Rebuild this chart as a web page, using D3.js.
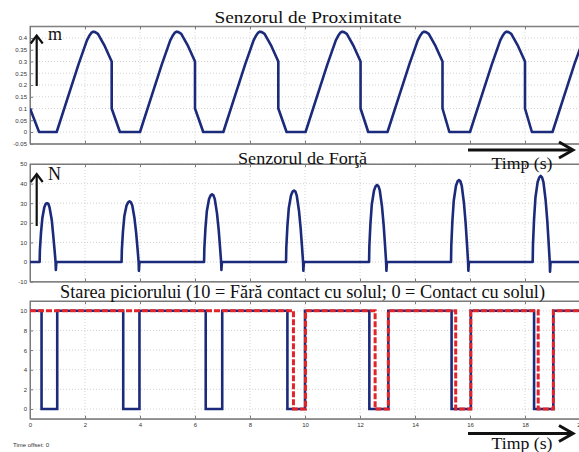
<!DOCTYPE html>
<html><head><meta charset="utf-8">
<script src="https://cdn.jsdelivr.net/npm/d3@7"></script>
<style>
html,body{margin:0;padding:0;background:#fff;}
svg{display:block;}
</style></head>
<body>
<svg id="c" width="579" height="452"></svg>
<script>
// ---------- DATA ----------
const xTicks = [0, 2, 4, 6, 8, 10, 12, 14, 16, 18, 20];
const proxTicks = [-0.05, 0, 0.05, 0.1, 0.15, 0.2, 0.25, 0.3, 0.35, 0.4];
const forceTicks = [-10, 0, 10, 20, 30, 40, 50];
const stateTicks = [0, 2, 4, 6, 8, 10];

const titles = ["Senzorul de Proximitate", "Senzorul de Forţă",
  "Starea piciorului (10 = Fără contact cu solul; 0 = Contact cu solul)"];

const proxT = [0, 0.33,
  0.97, 1.37, 1.77, 1.92, 2.07, 2.17, 2.24, 2.30, 2.37, 2.47, 2.72, 2.97, 2.97, 3.27,
  4.00, 4.40, 4.80, 4.95, 5.10, 5.20, 5.27, 5.33, 5.40, 5.50, 5.75, 6.00, 6.00, 6.30,
  7.03, 7.43, 7.83, 7.98, 8.13, 8.23, 8.30, 8.36, 8.43, 8.53, 8.78, 9.03, 9.03, 9.33,
  10.02, 10.42, 10.82, 10.97, 11.12, 11.22, 11.29, 11.35, 11.42, 11.52, 11.77, 12.02, 12.02, 12.30,
  13.00, 13.40, 13.80, 13.95, 14.10, 14.20, 14.27, 14.33, 14.40, 14.50, 14.75, 15.00, 15.00, 15.25,
  16.00, 16.40, 16.80, 16.95, 17.10, 17.20, 17.27, 17.33, 17.40, 17.50, 17.75, 18.00, 18.00, 18.25,
  19.00, 19.40, 19.80, 20.00];
const proxV = [0.10, 0,
  0, 0.145, 0.29, 0.34, 0.39, 0.412, 0.423, 0.427, 0.425, 0.418, 0.365, 0.30, 0.10, 0,
  0, 0.145, 0.29, 0.34, 0.39, 0.412, 0.423, 0.427, 0.425, 0.418, 0.365, 0.30, 0.10, 0,
  0, 0.145, 0.29, 0.34, 0.39, 0.412, 0.423, 0.427, 0.425, 0.418, 0.365, 0.30, 0.10, 0,
  0, 0.145, 0.29, 0.34, 0.39, 0.412, 0.423, 0.427, 0.425, 0.418, 0.365, 0.30, 0.10, 0,
  0, 0.145, 0.29, 0.34, 0.39, 0.412, 0.423, 0.427, 0.425, 0.418, 0.365, 0.30, 0.10, 0,
  0, 0.145, 0.29, 0.34, 0.39, 0.412, 0.423, 0.427, 0.425, 0.418, 0.365, 0.30, 0.10, 0,
  0, 0.145, 0.29, 0.355];

const forceT = [0,
  0.35, 0.36, 0.40, 0.45, 0.52, 0.57, 0.62, 0.67, 0.71, 0.79, 0.84, 0.89, 0.93, 0.94, 0.96,
  3.33, 3.34, 3.38, 3.43, 3.51, 3.57, 3.62, 3.67, 3.72, 3.80, 3.86, 3.91, 3.95, 3.96, 3.98,
  6.33, 6.34, 6.38, 6.43, 6.51, 6.57, 6.62, 6.67, 6.72, 6.80, 6.86, 6.91, 6.95, 6.96, 6.98,
  9.31, 9.32, 9.36, 9.41, 9.49, 9.55, 9.60, 9.65, 9.70, 9.78, 9.84, 9.89, 9.93, 9.94, 9.96,
  12.33, 12.34, 12.38, 12.43, 12.51, 12.57, 12.62, 12.67, 12.72, 12.80, 12.86, 12.91, 12.95, 12.96, 12.98,
  15.31, 15.32, 15.36, 15.41, 15.49, 15.55, 15.60, 15.65, 15.70, 15.78, 15.84, 15.89, 15.93, 15.94, 15.96,
  18.28, 18.29, 18.33, 18.38, 18.46, 18.52, 18.57, 18.62, 18.67, 18.75, 18.81, 18.86, 18.90, 18.91, 18.93,
  20];
const forceV = [0,
  0, 6.0, 15.0, 22.5, 27.9, 29.6, 30.0, 29.6, 27.9, 21.6, 14.4, 6.6, 0, -4.0, 0,
  0, 6.2, 15.5, 23.3, 28.8, 30.5, 31.0, 30.5, 28.8, 22.3, 14.9, 6.8, 0, -4.5, 0,
  0, 6.9, 17.3, 25.9, 32.1, 34.0, 34.5, 34.0, 32.1, 24.8, 16.6, 7.6, 0, -4.0, 0,
  0, 7.3, 18.3, 27.4, 33.9, 36.0, 36.5, 36.0, 33.9, 26.3, 17.5, 8.0, 0, -4.5, 0,
  0, 7.9, 19.7, 29.5, 36.5, 38.7, 39.3, 38.7, 36.5, 28.3, 18.9, 8.6, 0, -4.5, 0,
  0, 8.4, 20.9, 31.4, 38.9, 41.2, 41.8, 41.2, 38.9, 30.1, 20.1, 9.2, 0, -4.5, 0,
  0, 8.8, 22.0, 32.9, 40.8, 43.2, 43.9, 43.2, 40.8, 31.6, 21.1, 9.7, 0, -5.0, 0,
  0];

// step signals (value holds from each time until the next)
const blueT = [0, 0.42, 0.99, 3.39, 3.98, 6.39, 6.99, 9.36, 10.00, 12.34, 13.03, 15.33, 16.03, 18.33, 19.03, 20];
const blueV = [10, 0, 10, 0, 10, 0, 10, 0, 10, 0, 10, 0, 10, 0, 10, 10];
const redT = [0, 9.58, 10.02, 12.55, 13.03, 15.48, 16.03, 18.48, 19.03, 20];
const redV = [10, 0, 10, 0, 10, 0, 10, 0, 10, 10];

// ---------- DRAW ----------
const svg = d3.select("#c");
const X0 = 30, X1 = 580;
const x = d3.scaleLinear().domain([0, 20]).range([X0, X1]);

const panels = [
  {dom: [-0.05, 0.45], r: [143.75, 26.25], ticks: proxTicks, labels: false},
  {dom: [-10, 50], r: [281.6, 164], ticks: forceTicks, labels: false},
  {dom: [-1, 11], r: [418.8, 301], ticks: stateTicks, labels: true}
];
const navy = "#1b2a7a";
const frame = "#7a7a7a";

panels.forEach((p, i) => {
  const y = d3.scaleLinear().domain(p.dom).range(p.r);
  p.y = y;
  const g = svg.append("g");
  const top = p.r[1], bot = p.r[0];
  g.append("clipPath").attr("id", "clip" + i).append("rect")
    .attr("x", X0).attr("y", top).attr("width", X1 - X0).attr("height", bot - top);
  // grid
  g.append("g").selectAll("line").data(xTicks.slice(1)).join("line")
    .attr("x1", d => x(d)).attr("x2", d => x(d)).attr("y1", top).attr("y2", bot)
    .attr("stroke", "#c8c8c8").attr("stroke-width", 0.8).attr("stroke-dasharray", "1,2");
  g.append("g").selectAll("line").data(p.ticks).join("line")
    .attr("x1", X0).attr("x2", X1).attr("y1", d => y(d)).attr("y2", d => y(d))
    .attr("stroke", "#c8c8c8").attr("stroke-width", 0.8).attr("stroke-dasharray", "1,2");
  // axes
  const ya = g.append("g").attr("transform", `translate(${X0},0)`)
    .call(d3.axisLeft(y).tickValues(p.ticks).tickFormat(d => String(d))
      .tickSizeInner(-3).tickSizeOuter(0).tickPadding(3));
  const xa = g.append("g").attr("transform", `translate(0,${bot})`)
    .call(d3.axisBottom(x).tickValues(xTicks).tickFormat(p.labels ? (d => String(d)) : () => "")
      .tickSizeInner(-3).tickSizeOuter(0).tickPadding(4));
  const xt = g.append("g").attr("transform", `translate(0,${top})`)
    .call(d3.axisTop(x).tickValues(xTicks).tickFormat(() => "")
      .tickSizeInner(-3).tickSizeOuter(0));
  [ya, xa, xt].forEach(a => {
    a.selectAll("path").attr("stroke", frame);
    a.selectAll("line").attr("stroke", frame);
    a.selectAll("text").attr("fill", "#333").style("font-family", "Liberation Sans, Arial, sans-serif").style("font-size", "6px");
  });
  g.append("rect").attr("x", X0).attr("y", top).attr("width", X1 - X0).attr("height", bot - top)
    .attr("fill", "none").attr("stroke", frame).attr("stroke-width", 1);
});

function drawLine(panel, idx, T, V, color, width, curve, dash) {
  const data = T.map((t, k) => [t, V[k]]);
  const line = d3.line().x(d => x(d[0])).y(d => panel.y(d[1])).curve(curve || d3.curveLinear);
  const path = svg.append("path").datum(data).attr("d", line)
    .attr("fill", "none").attr("stroke", color).attr("stroke-width", width)
    .attr("stroke-linejoin", "round").attr("clip-path", `url(#clip${idx})`);
  if (dash) path.attr("stroke-dasharray", dash);
  return path;
}
drawLine(panels[0], 0, proxT, proxV, navy, 2.6);
drawLine(panels[1], 1, forceT, forceV, navy, 2.6);
drawLine(panels[2], 2, blueT, blueV, navy, 2.6, d3.curveStepAfter).attr("stroke-linejoin", "miter");
drawLine(panels[2], 2, redT, redV, "#e0242a", 3, d3.curveStepAfter, "6,2").attr("stroke-linejoin", "miter");

// titles
const serif = "Liberation Serif, Times New Roman, serif";
const tpos = [{cx: 308, y: 23, w: 187, fs: 17}, {cx: 302.5, y: 164, w: 129, fs: 17}, {cx: 302.5, y: 298, w: 485, fs: 18}];
titles.forEach((t, i) => {
  svg.append("text").attr("x", tpos[i].cx - tpos[i].w / 2).attr("y", tpos[i].y)
    .attr("textLength", tpos[i].w).attr("lengthAdjust", "spacingAndGlyphs")
    .style("font-family", serif).style("font-size", tpos[i].fs + "px").attr("fill", "#111").text(t);
});

// unit arrows
function upArrow(xp, y1, y2, label, ly) {
  svg.append("line").attr("x1", xp).attr("x2", xp).attr("y1", y1).attr("y2", y2)
    .attr("stroke", "#111").attr("stroke-width", 2.2);
  svg.append("path").attr("d", `M${xp - 6},${y2 + 8} L${xp},${y2} L${xp + 6},${y2 + 8}`)
    .attr("fill", "none").attr("stroke", "#111").attr("stroke-width", 2.2);
  svg.append("text").attr("x", 48).attr("y", ly).style("font-family", serif)
    .style("font-size", "18px").attr("fill", "#111").text(label);
}
upArrow(36.7, 86, 35.5, "m", 40);
upArrow(36.7, 226, 174, "N", 180);

function rightArrow(y, ty) {
  svg.append("line").attr("x1", 468).attr("x2", 572).attr("y1", y).attr("y2", y)
    .attr("stroke", "#111").attr("stroke-width", 3);
  svg.append("path").attr("d", `M559,${y - 8} L573,${y} L559,${y + 8}`)
    .attr("fill", "none").attr("stroke", "#111").attr("stroke-width", 3);
  svg.append("text").attr("x", 491.5).attr("y", ty).attr("textLength", 61).attr("lengthAdjust", "spacingAndGlyphs")
    .style("font-family", serif).style("font-size", "17px").attr("fill", "#111").text("Timp (s)");
}
rightArrow(150, 169);
rightArrow(433.5, 449);

svg.append("text").attr("x", 13).attr("y", 447).style("font-family", "Liberation Sans, Arial, sans-serif")
  .style("font-size", "6px").attr("fill", "#333").text("Time offset: 0");
</script>
</body></html>
